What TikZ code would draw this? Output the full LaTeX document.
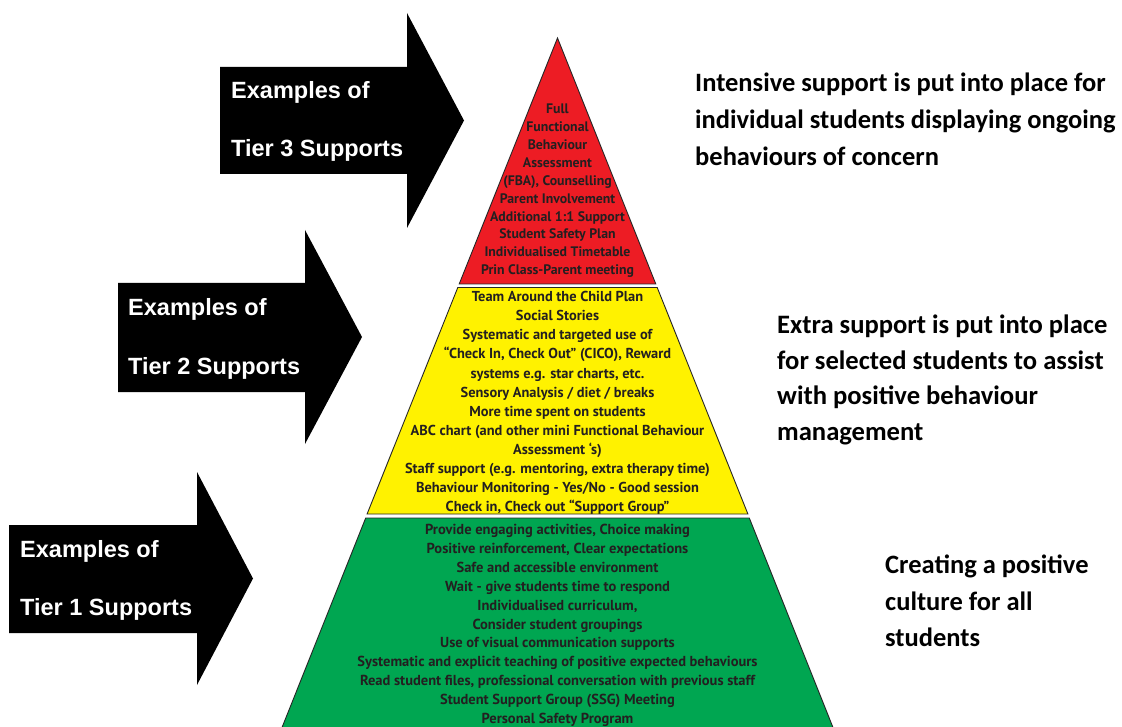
\documentclass[tikz,border=0pt]{standalone}
\usepackage{fontspec}
\newfontfamily\pyrfont{PT Sans}
\newfontfamily\tagfont{Liberation Sans}
\newfontfamily\notefont{Carlito}
\definecolor{tierred}{HTML}{ED1C24}
\definecolor{tieryellow}{HTML}{FFF200}
\definecolor{tiergreen}{HTML}{00A651}
\definecolor{ink}{HTML}{231F20}
\begin{document}
\begin{tikzpicture}[x=1pt,y=-1pt,
  tier/.style={draw=black!85, line width=0.9pt, line join=miter},
  blockarrow/.style={fill=black},
  taglabel/.style={anchor=base west, inner sep=0pt, text=white,
    font=\tagfont\bfseries\fontsize{23.5}{28}\selectfont},
  notebase/.style={anchor=base west, inner sep=0pt, text=black},
  noteA/.style={notebase, font=\notefont\bfseries\fontsize{26.5}{31}\selectfont},
  noteB/.style={notebase, font=\notefont\bfseries\fontsize{26.6}{31}\selectfont},
  noteC/.style={notebase, font=\notefont\bfseries\fontsize{26.5}{31}\selectfont},
  item/.style={anchor=base, inner sep=0pt, text=ink,
    font=\pyrfont\bfseries\fontsize{#1}{14}\selectfont}]

\useasboundingbox (0,0) rectangle (1122,727);
\fill[white] (0,0) rectangle (1122,727);

% the three tiers of the pyramid
\begin{scope}
  \clip (0,0) rectangle (1122,727);
  \draw[tier, fill=tierred] (557.5,38) -- (655.8,284) -- (459.2,284) -- cycle;
  \draw[tier, fill=tieryellow] (457.8,287.5) -- (657.2,287.5) -- (747.9,514) -- (367.1,514) -- cycle;
  \draw[tier, fill=tiergreen] (365.7,518) -- (749.3,518) -- (836,735) -- (279,735) -- cycle;
\end{scope}

% block arrows pointing at the tiers
\fill[blockarrow] (220,67) -- (407,67) -- (407,13) -- (464,120.5) -- (407,228) -- (407,174) -- (220,174) -- cycle;
\fill[blockarrow] (118,283) -- (305,283) -- (305,230) -- (362,337) -- (305,444) -- (305,392) -- (118,392) -- cycle;
\fill[blockarrow] (9,525) -- (197,525) -- (197,472) -- (253,578.5) -- (197,685) -- (197,633) -- (9,633) -- cycle;

\node[taglabel] (tag3a) at (231,99) {Examples of};
\node[taglabel] (tag3b) at (231,156.7) {Tier 3 Supports};
\node[taglabel] (tag2a) at (128,316) {Examples of};
\node[taglabel] (tag2b) at (128,374) {Tier 2 Supports};
\node[taglabel] (tag1a) at (20,557) {Examples of};
\node[taglabel] (tag1b) at (20,615.7) {Tier 1 Supports};

% tier 3 contents
\foreach \t [count=\i from 0] in {Full, Functional, Behaviour, Assessment,
  {(FBA), Counselling}, {Parent Involvement}, {Additional 1:1 Support},
  {Student Safety Plan}, {Individualised Timetable}, {Prin Class-Parent meeting}}
  \node[item=13.8] (red\i) at (557.5, 114+17.85*\i) {\t};

% tier 2 contents
\foreach \t [count=\i from 0] in {{Team Around the Child Plan}, {Social Stories},
  {Systematic and targeted use of}, {“Check In, Check Out” (CICO), Reward},
  {systems e.g. star charts, etc.}, {Sensory Analysis / diet / breaks},
  {More time spent on students}, {ABC chart (and other mini Functional Behaviour},
  {Assessment ‘s)}, {Staff support (e.g. mentoring, extra therapy time)},
  {Behaviour Monitoring - Yes/No - Good session}, {Check in, Check out “Support Group”}}
  \node[item=14.4] (yel\i) at (557.5, 302+19.0*\i) {\t};

% tier 1 contents
\foreach \t [count=\i from 0] in {{Provide engaging activities, Choice making},
  {Positive reinforcement, Clear expectations}, {Safe and accessible environment},
  {Wait - give students time to respond}, {Individualised curriculum,},
  {Consider student groupings}, {Use of visual communication supports},
  {Systematic and explicit teaching of positive expected behaviours},
  {Read student files, professional conversation with previous staff},
  {Student Support Group (SSG) Meeting}, {Personal Safety Program}}
  \node[item=14.5] (grn\i) at (557.5, 534.5+18.9*\i) {\t};

% descriptions beside each tier
\node[noteA] (n3a) at (695,92) {Intensive support is put into place for};
\node[noteA] (n3b) at (695,129) {individual students displaying ongoing};
\node[noteA] (n3c) at (695,166) {behaviours of concern};

\node[noteB] (n2a) at (777,333.5) {Extra support is put into place};
\node[noteB] (n2b) at (777,369.2) {for selected students to assist};
\node[noteB] (n2c) at (777,404.9) {with positive behaviour};
\node[noteB] (n2d) at (777,440.6) {management};

\node[noteC] (n1a) at (885,573.3) {Creating a positive};
\node[noteC] (n1b) at (885,610) {culture for all};
\node[noteC] (n1c) at (885,646.5) {students};
\end{tikzpicture}
\end{document}
